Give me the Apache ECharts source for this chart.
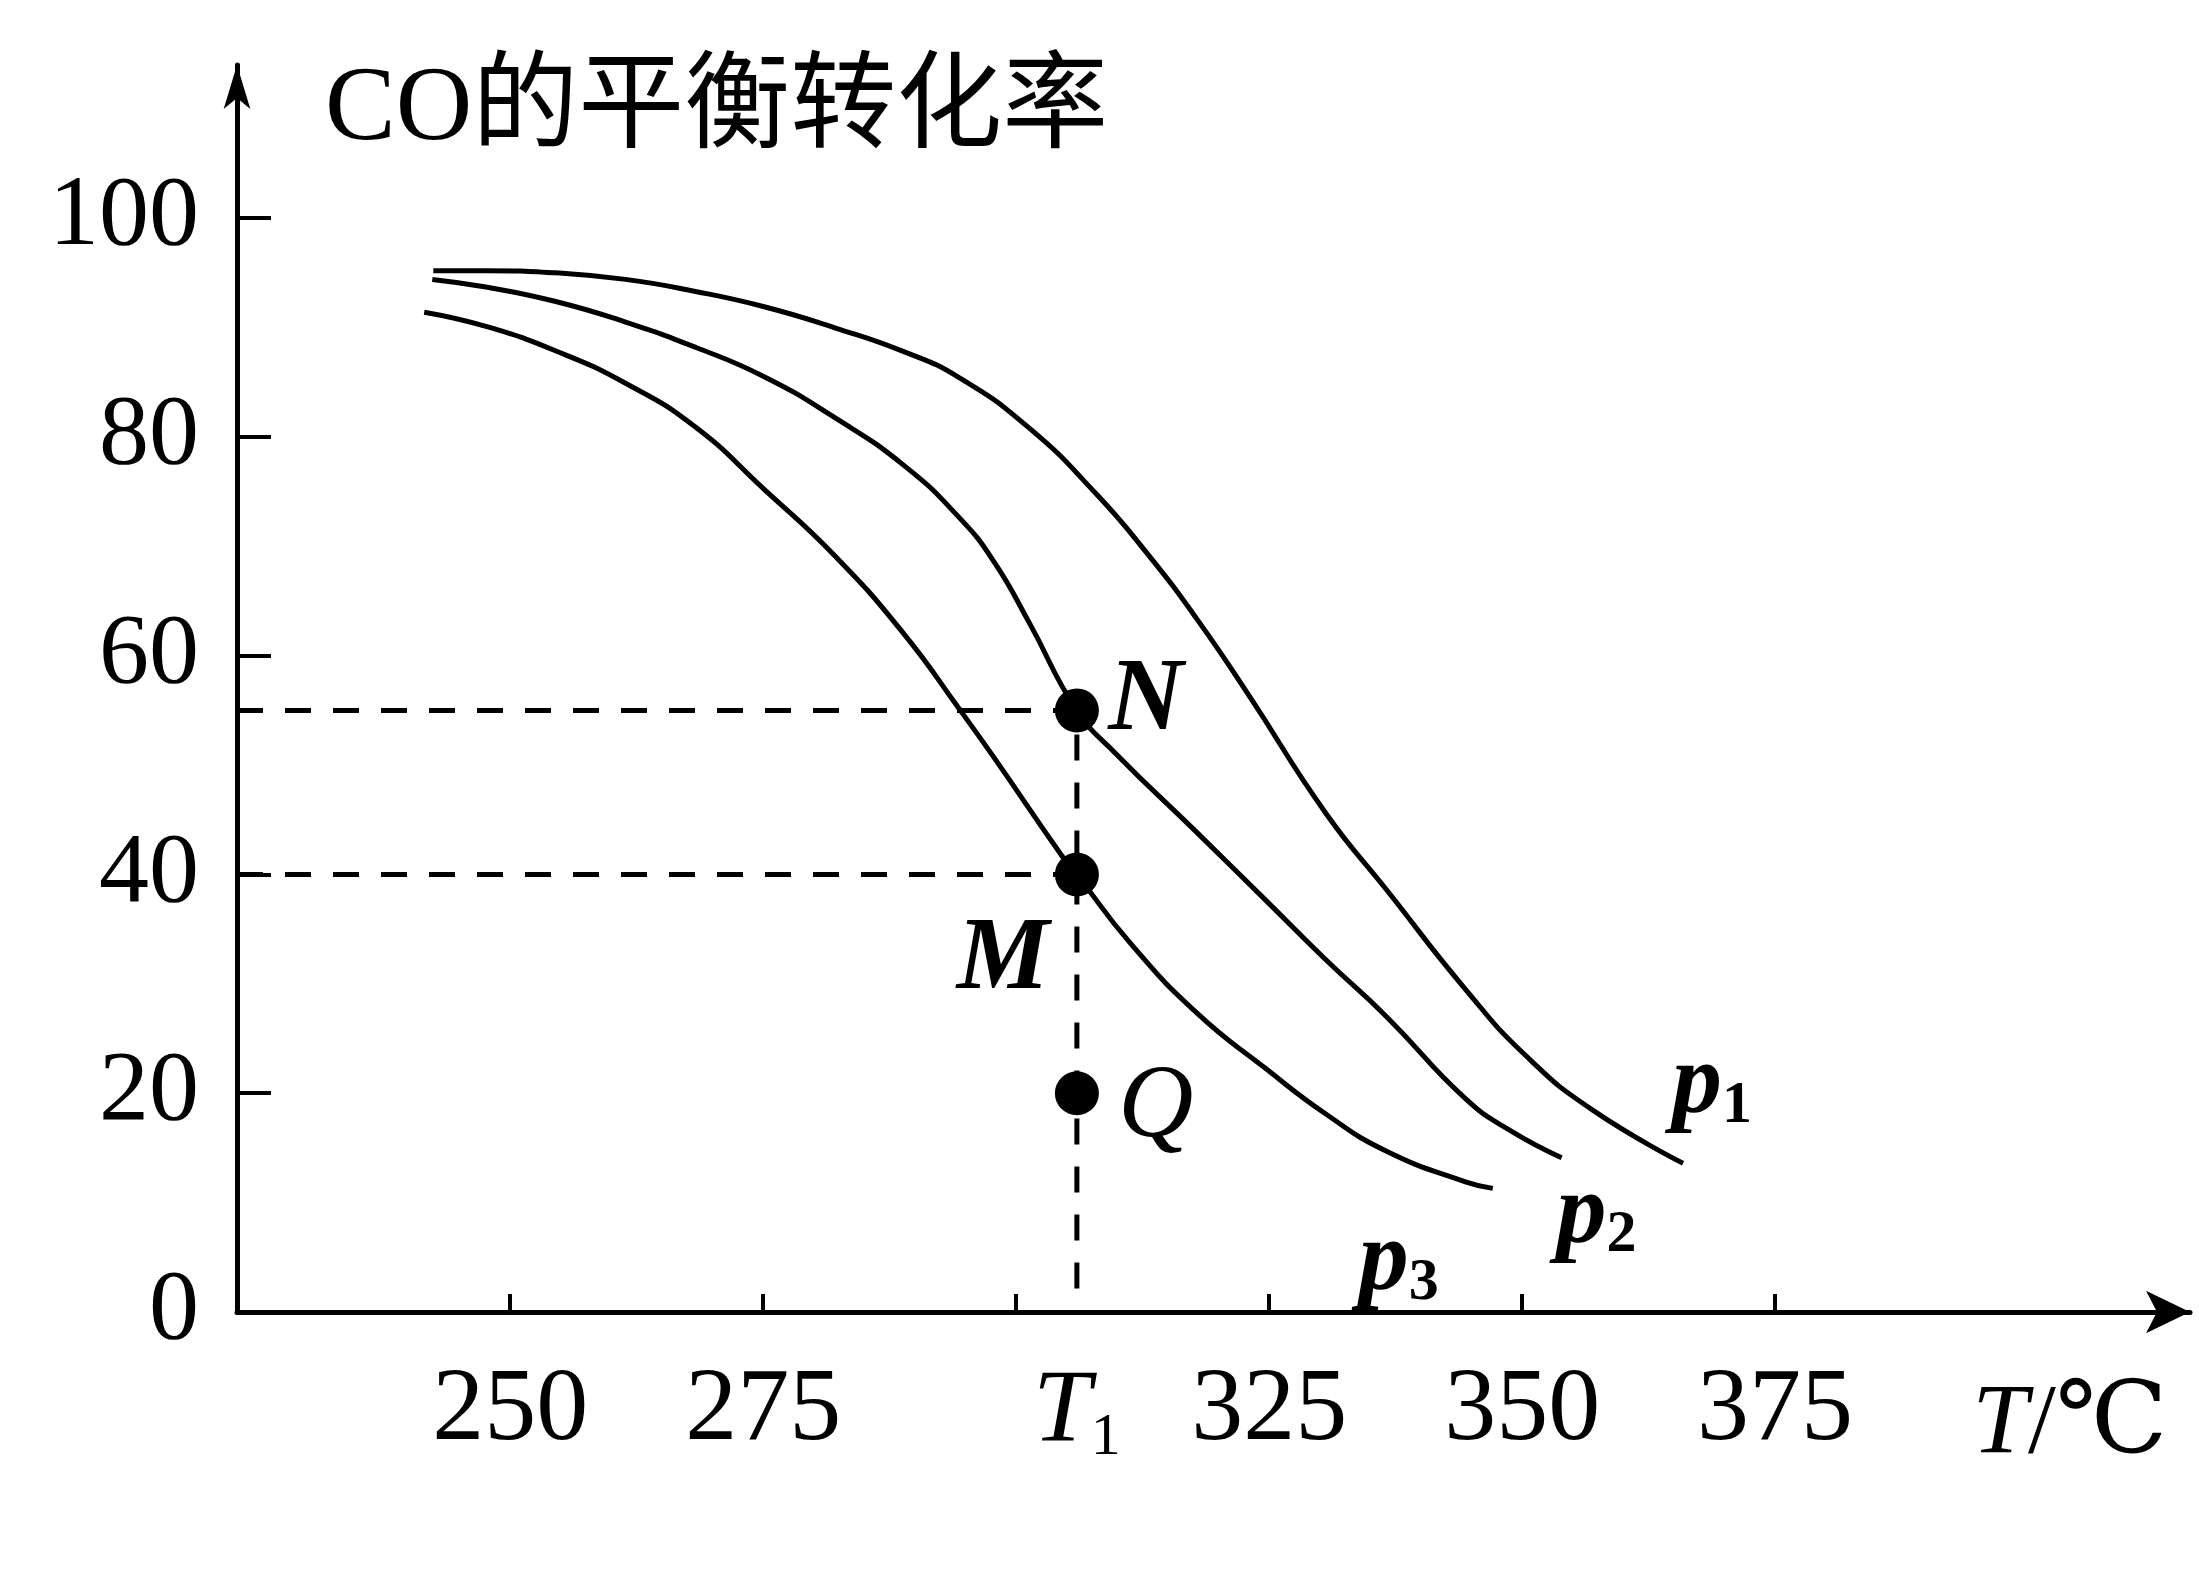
<!DOCTYPE html>
<html><head><meta charset="utf-8">
<script src="https://cdn.jsdelivr.net/npm/echarts@6/dist/echarts.min.js"></script>
<style>html,body{margin:0;padding:0;background:#fff}#c{width:2199px;height:1585px}</style>
</head><body><div id="c"></div>
<script>
// ---- data ----
const yTitle = 'CO的平衡转化率';
const xTitleItalic = 'T';
const xTitleRest = '/℃';
const xMin = 223, xMax = 416;
const yMin = 0, yMax = 114;
const xTickValues = [250, 275, 300, 325, 350, 375];
const T1 = 306;
const xLabelValues = [250, 275, T1, 325, 350, 375];
const yTickValues = [20, 40, 60, 80, 100];
const yLabelValues = [0, 20, 40, 60, 80, 100];

const curveSubs = ['1', '2', '3'];
const p1 = [[242.4,95.2],[247.6,95.2],[254.4,95.0],[261.4,94.4],[268.3,93.3],[275.1,91.9],[282.0,90.0],[288.9,87.8],[294.4,85.4],[301.3,80.8],[307.9,74.8],[312.9,69.4],[317.9,63.3],[322.9,56.5],[330.6,45.6],[336.6,38.6],[344.4,29.5],[350.4,23.4],[356.9,18.5],[365.9,13.6]];
const p2 = [[242.3,94.4],[247.6,93.7],[254.4,92.4],[261.4,90.5],[268.3,88.2],[275.1,85.5],[282.0,81.8],[288.9,77.4],[294.4,72.6],[297.8,68.6],[301.3,63.0],[306.0,55.0],[309.9,51.0],[317.9,43.8],[324.6,37.7],[330.6,32.2],[336.6,27.0],[344.4,19.5],[348.8,16.6],[353.9,14.1]];
const p3 = [[241.5,91.4],[247.6,90.1],[254.4,87.9],[261.4,84.9],[268.3,80.9],[275.1,75.2],[282.0,69.2],[288.9,62.0],[294.4,55.1],[297.8,50.7],[304.6,41.6],[306.0,40.0],[311.3,33.7],[317.9,27.3],[324.6,22.3],[330.6,18.1],[336.6,14.7],[344.4,11.9],[347.1,11.3]];
const curves = [p1, p2, p3];

const pointNames = ['N', 'M', 'Q'];
const pointValues = [55, 40, 20];

// ---- styling ----
const SERIF = '"Liberation Serif","DejaVu Serif",serif';
const labelOffsets = [[-19, -77], [-13, 58], [-142, 75]];
const pointLabelStyle = [
  {offset: [69, -8], fontWeight: 'bold', fontStyle: 'italic'},
  {offset: [-74, 87], fontWeight: 'bold', fontStyle: 'italic'},
  {offset: [79, 15], fontWeight: 'normal', fontStyle: 'italic'}
];

const series = [];
series.push({
  type: 'line', data: [[xMin, pointValues[0]], [T1, pointValues[0]], [T1, 0]],
  symbol: 'none', silent: true, z: 1,
  lineStyle: {color: '#000', width: 5, type: [26, 22]}
});
series.push({
  type: 'line', data: [[xMin, pointValues[1]], [T1, pointValues[1]]],
  symbol: 'none', silent: true, z: 1,
  lineStyle: {color: '#000', width: 5, type: [26, 22]}
});
curves.forEach((d, i) => {
  series.push({
    type: 'line', name: 'p' + curveSubs[i], data: d, smooth: 0.5,
    symbol: 'none', z: 2,
    lineStyle: {color: '#000', width: 5},
    endLabel: {
      show: true, offset: labelOffsets[i],
      formatter: '{p|p}{s|' + curveSubs[i] + '}',
      rich: {
        p: {fontFamily: SERIF, fontStyle: 'italic', fontWeight: 'bold', fontSize: 100, color: '#000'},
        s: {fontFamily: SERIF, fontWeight: 'bold', fontSize: 60, color: '#000', verticalAlign: 'bottom', padding: [38, 0, 0, 0]}
      }
    }
  });
});
series.push({
  type: 'scatter', z: 3, symbol: 'circle', symbolSize: 44,
  itemStyle: {color: '#000', opacity: 1},
  data: pointNames.map((n, i) => ({
    name: n, value: [T1, pointValues[i]],
    label: Object.assign({
      show: true, position: 'inside', formatter: n,
      fontFamily: SERIF, fontSize: 104, color: '#000', opacity: 1,
      align: 'center', verticalAlign: 'middle'
    }, pointLabelStyle[i])
  }))
});

const chart = echarts.init(document.getElementById('c'), null, {renderer: 'canvas'});
chart.setOption({
  animation: false,
  backgroundColor: '#fff',
  grid: {left: 237, right: 9, top: 65, bottom: 273, containLabel: false},
  xAxis: {
    type: 'value', min: xMin, max: xMax,
    axisLine: {show: true, onZero: false, symbol: ['none', 'arrow'], symbolSize: [32, 44],
      lineStyle: {color: '#000', width: 5}},
    axisTick: {show: true, inside: true, length: 18, customValues: xTickValues,
      lineStyle: {color: '#000', width: 4}},
    axisLabel: {
      customValues: xLabelValues, margin: 48, color: '#000',
      fontFamily: SERIF, fontSize: 104,
      formatter: v => v === T1 ? '{t|T}{s|1}' : String(v),
      rich: {
        t: {fontFamily: SERIF, fontStyle: 'italic', fontSize: 104, color: '#000'},
        s: {fontFamily: SERIF, fontSize: 60, color: '#000', verticalAlign: 'bottom', padding: [48, 0, 0, 0]}
      }
    },
    splitLine: {show: false},
    name: '{i|' + xTitleItalic + '}{r|' + xTitleRest + '}',
    nameLocation: 'end', nameGap: -120,
    nameTextStyle: {
      align: 'center', verticalAlign: 'top', padding: [64, 0, 0, 0],
      rich: {
        i: {fontFamily: SERIF, fontStyle: 'italic', fontSize: 100, color: '#000'},
        r: {fontFamily: SERIF, fontSize: 100, color: '#000'}
      }
    }
  },
  yAxis: {
    type: 'value', min: yMin, max: yMax,
    axisLine: {show: true, onZero: false, symbol: ['none', 'arrow'], symbolSize: [20, 44],
      lineStyle: {color: '#000', width: 5}},
    axisTick: {show: true, inside: true, length: 34, customValues: yTickValues,
      lineStyle: {color: '#000', width: 4}},
    axisLabel: {customValues: yLabelValues, margin: 38, color: '#000',
      fontFamily: SERIF, fontSize: 100},
    splitLine: {show: false},
    name: yTitle, nameLocation: 'end', nameGap: -46,
    nameTextStyle: {
      fontFamily: '"Liberation Serif","Noto Sans CJK SC",serif', fontSize: 106, color: '#000',
      align: 'left', verticalAlign: 'middle', padding: [0, 0, 0, 88]
    }
  },
  series: series
});
</script></body></html>
